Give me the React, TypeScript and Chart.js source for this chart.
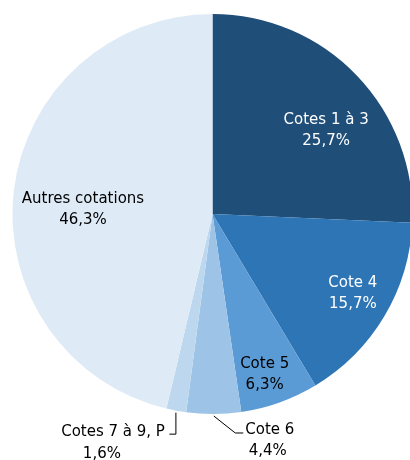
import React, { useEffect, useRef } from "react";
import { Chart, registerables } from "chart.js";

Chart.register(...registerables);

const categories = ["Cotes 1 à 3", "Cote 4", "Cote 5", "Cote 6", "Cotes 7 à 9, P", "Autres cotations"];
const shares = [25.7, 15.7, 6.3, 4.4, 1.6, 46.3];
const shareLabels = ["25,7%", "15,7%", "6,3%", "4,4%", "1,6%", "46,3%"];

const sliceColors = ["#1F4E79", "#2E75B6", "#5B9BD5", "#9DC3E6", "#BDD7EE", "#DEEBF7"];
const textColors = ["#FFFFFF", "#FFFFFF", "#000000", "#000000", "#000000", "#000000"];

// inside labels: polar position (deg clockwise from top, fraction of radius)
// outside labels: leader elbow/end offsets (px) from edge point, text anchor offsets
type Layout =
  | { kind: "in"; angle: number; r: number }
  | { kind: "out"; elbow: [number, number]; end: [number, number]; line1: [number, number, CanvasTextAlign]; line2: [number, number, CanvasTextAlign] };

const labelLayout: Layout[] = [
  { kind: "in", angle: 53.7, r: 0.705 },
  { kind: "in", angle: 119.7, r: 0.808 },
  { kind: "in", angle: 162.0, r: 0.844 },
  { kind: "out", elbow: [21.5, 17], end: [29.5, 17], line1: [31.5, 14, "left"], line2: [54, 35, "center"] },
  { kind: "out", elbow: [0, 21.5], end: [-6.5, 21.5], line1: [-11, 19, "right"], line2: [-74, 41, "center"] },
  { kind: "in", angle: 272.0, r: 0.648 },
];

const FONT = "15px 'DejaVu Sans'";
const LINE_H = 21;

const labelPlugin = {
  id: "sliceLabels",
  afterDatasetsDraw(chart: any) {
    const ctx: CanvasRenderingContext2D = chart.ctx;
    const meta = chart.getDatasetMeta(0);
    ctx.save();
    ctx.font = FONT;
    ctx.textBaseline = "middle";
    meta.data.forEach((arc: any, i: number) => {
      const { x, y, outerRadius, startAngle, endAngle } = arc.getProps(
        ["x", "y", "outerRadius", "startAngle", "endAngle"],
        true
      );
      const lay = labelLayout[i];
      ctx.fillStyle = textColors[i];
      if (lay.kind === "in") {
        const a = (lay.angle * Math.PI) / 180;
        const cx = x + Math.sin(a) * outerRadius * lay.r;
        const cy = y - Math.cos(a) * outerRadius * lay.r;
        ctx.textAlign = "center";
        ctx.fillText(categories[i], cx, cy - LINE_H / 2);
        ctx.fillText(shareLabels[i], cx, cy + LINE_H / 2);
      } else {
        const mid = (startAngle + endAngle) / 2;
        const sx = x + Math.cos(mid) * (outerRadius + 2);
        const sy = y + Math.sin(mid) * (outerRadius + 2);
        ctx.strokeStyle = "#000000";
        ctx.lineWidth = 1;
        ctx.beginPath();
        ctx.moveTo(sx, sy);
        ctx.lineTo(sx + lay.elbow[0], sy + lay.elbow[1]);
        ctx.lineTo(sx + lay.end[0], sy + lay.end[1]);
        ctx.stroke();
        ctx.fillStyle = "#000000";
        ctx.textAlign = lay.line1[2];
        ctx.fillText(categories[i], sx + lay.line1[0], sy + lay.line1[1]);
        ctx.textAlign = lay.line2[2];
        ctx.fillText(shareLabels[i], sx + lay.line2[0], sy + lay.line2[1]);
      }
    });
    ctx.restore();
  },
};

export default function App() {
  const ref = useRef<HTMLCanvasElement | null>(null);
  useEffect(() => {
    if (!ref.current) return;
    const chart = new Chart(ref.current, {
      type: "pie",
      data: {
        labels: categories,
        datasets: [
          {
            data: shares,
            backgroundColor: sliceColors,
            borderWidth: 0,
          },
        ],
      },
      options: {
        animation: false,
        responsive: false,
        devicePixelRatio: 1,
        layout: { padding: { left: 12.5, right: 12.5, top: 14, bottom: 46 } },
        plugins: {
          legend: { display: false },
          tooltip: { enabled: false },
        },
      },
      plugins: [labelPlugin],
    });
    return () => chart.destroy();
  }, []);
  return (
    <div style={{ position: "fixed", left: 0, top: 0, width: 410, height: 460, overflow: "hidden", background: "#fff" }}>
      <canvas ref={ref} width={425} height={460} style={{ display: "block", width: 425, height: 460 }} />
    </div>
  );
}
